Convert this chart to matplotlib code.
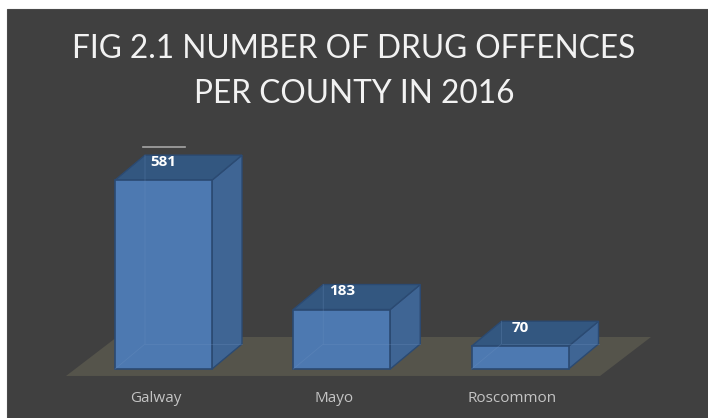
import matplotlib
matplotlib.use("Agg")
import matplotlib.pyplot as plt
from matplotlib.patches import Polygon, Rectangle

# Data
counties = ["Galway", "Mayo", "Roscommon"]
offences = [581, 183, 70]
title_lines = ["FIG 2.1 NUMBER OF DRUG OFFENCES", "PER COUNTY IN 2016"]

W, H = 708, 418
fig = plt.figure(figsize=(W / 100, H / 100), dpi=100, facecolor="white")

ax = fig.add_axes([0, 0, 1, 1])
ax.set_axis_off()
ax.patch.set_alpha(0)

# dark chart area
ax.add_patch(Rectangle((7 / W, 0), 1 - 7 / W, 1 - 9 / H, transform=ax.transAxes,
                       facecolor="#404040", edgecolor="#4a4a4a", lw=0.8, zorder=0))

# scales: value axis and category axis mapped onto the canvas
px_per_unit = 0.325
base_px = 369.0
ax.set_ylim((base_px - H) / px_per_unit, base_px / px_per_unit)
cat_step = 178.25
first_px = 163.5
ax.set_xlim(-first_px / cat_step, (W - first_px) / cat_step)

bar_w = 97 / cat_step
depth_x = 30 / cat_step
depth_y = 25 / px_per_unit

front_c = "#4d79b1"
top_c = "#335780"
side_c = "#3f6594"
edge_c = "#2b4a72"
floor_c = "#55544b"

# floor
fl_front = -21.5
fl_back = 98.5
floor = Polygon([(-0.547, fl_front), (2.449, fl_front), (2.735, fl_back), (-0.261, fl_back)],
                closed=True, facecolor=floor_c, edgecolor="none", zorder=1)
ax.add_patch(floor)

for i, (name, v) in enumerate(zip(counties, offences)):
    x0 = i - bar_w / 2
    x1 = i + bar_w / 2
    side = Polygon([(x1, 0), (x1 + depth_x, depth_y), (x1 + depth_x, v + depth_y), (x1, v)],
                   closed=True, facecolor=side_c, edgecolor=edge_c, lw=1.0, zorder=3)
    top = Polygon([(x0, v), (x1, v), (x1 + depth_x, v + depth_y), (x0 + depth_x, v + depth_y)],
                  closed=True, facecolor=top_c, edgecolor=edge_c, lw=1.0, zorder=3)
    front = Rectangle((x0, 0), bar_w, v, facecolor=front_c, edgecolor=edge_c, lw=1.2,
                      zorder=4)
    ax.add_patch(side)
    ax.add_patch(top)
    ax.add_patch(front)
    # hidden back edges seen through the box
    ax.plot([x0, x0 + depth_x, x0 + depth_x], [0, depth_y, v + depth_y], color="#6f93c2",
            lw=0.6, alpha=0.3, zorder=4.5)
    ax.plot([x0 + depth_x, x1 + depth_x], [depth_y, depth_y], color="#6f93c2",
            lw=0.6, alpha=0.3, zorder=4.5)
    ax.text(i, v + 0.74 * depth_y, str(v), ha="center", va="center", color="white",
            fontsize=11, fontweight="bold", family="Open Sans", zorder=6)
    ax.text(i - 8 / cat_step, (base_px - 398) / px_per_unit, name, ha="center", va="center",
            color="#c4c4c4", fontsize=11, family="Open Sans", zorder=6)

# short leader line above the first value label
ax.plot([-20.5 / cat_step, 21.5 / cat_step], [offences[0] + 102, offences[0] + 102],
        color="#a6a6a6", lw=1.2, zorder=6)

for k, line in enumerate(title_lines):
    fig.text(354 / W, 1 - (58 + 45 * k) / H, line, ha="center", va="baseline",
             color="#f2f2f2", fontsize=22.8, family="Lato")

fig.savefig("out.png", dpi=100, facecolor="white")
